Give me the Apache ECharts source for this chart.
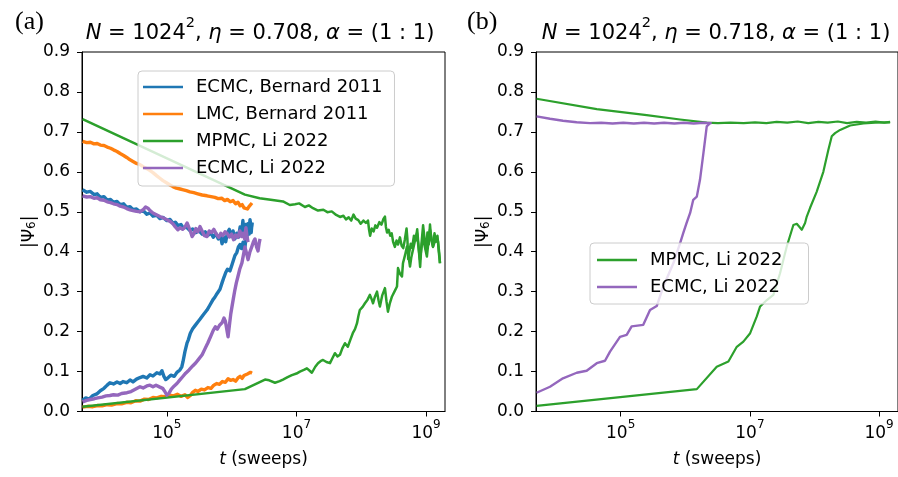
<!DOCTYPE html>
<html>
<head>
<meta charset="utf-8">
<script src="https://cdn.jsdelivr.net/npm/echarts@6/dist/echarts.min.js"></script>
<style>
  html, body { margin: 0; padding: 0; background: #fff; }
  #chart { width: 898px; height: 477px; }
</style>
</head>
<body>
<div id="chart"></div>
<script>
// |Psi_6| versus Monte Carlo time t (sweeps); each method has an ordered and a disordered start.
// Points are [t, |Psi_6|].

// ---- panel (a): eta = 0.708 ----
const ecmcBernardHigh = [
  [5.0e3,0.555],[5.8e3,0.549],[6.6e3,0.551],[7.5e3,0.543],[8.4e3,0.545],[9.4e3,0.536],[1.07e4,0.538],[1.2e4,0.529],
  [1.35e4,0.531],[1.5e4,0.524],[1.7e4,0.526],[1.9e4,0.518],[2.15e4,0.520],[2.4e4,0.511],[2.7e4,0.513],[3.0e4,0.505],
  [3.4e4,0.507],[3.85e4,0.500],[4.3e4,0.503],[4.9e4,0.494],[5.5e4,0.497],[6.1e4,0.489],[7.0e4,0.491],[7.8e4,0.483],
  [8.7e4,0.486],[1.0e5,0.478],[1.12e5,0.481],[1.24e5,0.471],[1.35e5,0.474],[1.48e5,0.466],[1.65e5,0.468],[1.8e5,0.459],
  [2.0e5,0.462],[2.27e5,0.453],[2.5e5,0.457],[2.8e5,0.448],[3.1e5,0.453],[3.5e5,0.444],[3.9e5,0.450],[4.3e5,0.441],
  [4.8e5,0.447],[5.2e5,0.436],[5.7e5,0.446],[6.2e5,0.432],[6.7e5,0.441],[7.1e5,0.420],[7.6e5,0.436],[8.1e5,0.425],
  [8.6e5,0.448],[9.2e5,0.456],[9.8e5,0.438],[1.05e6,0.452],[1.12e6,0.432],[1.2e6,0.446],[1.27e6,0.436],[1.35e6,0.462],
  [1.42e6,0.445],[1.49e6,0.478],[1.56e6,0.440],[1.63e6,0.468],[1.7e6,0.428],[1.77e6,0.470],[1.84e6,0.452],[1.92e6,0.480],
  [2.0e6,0.458],[2.06e6,0.474]
];
const ecmcBernardLow = [
  [5.0e3,0.028],[5.6e3,0.034],[6.3e3,0.031],[7.2e3,0.040],[8.3e3,0.044],[9.4e3,0.052],[1.07e4,0.058],[1.2e4,0.066],
  [1.32e4,0.072],[1.5e4,0.069],[1.7e4,0.074],[1.9e4,0.070],[2.1e4,0.075],[2.4e4,0.072],[2.7e4,0.079],[3.0e4,0.074],
  [3.4e4,0.081],[3.85e4,0.085],[4.3e4,0.088],[4.9e4,0.084],[5.5e4,0.092],[6.1e4,0.089],[7.0e4,0.097],[7.8e4,0.094],
  [8.4e4,0.102],[9.0e4,0.088],[9.6e4,0.080],[1.05e5,0.085],[1.15e5,0.091],[1.3e5,0.088],[1.43e5,0.098],[1.59e5,0.104],
  [1.7e5,0.112],[1.77e5,0.124],[1.9e5,0.150],[2.05e5,0.172],[2.15e5,0.180],[2.3e5,0.196],[2.5e5,0.207],[2.72e5,0.215],
  [3.0e5,0.224],[3.24e5,0.231],[3.6e5,0.241],[4.16e5,0.254],[4.6e5,0.266],[5.15e5,0.280],[5.5e5,0.286],[5.93e5,0.295],
  [6.6e5,0.306],[7.1e5,0.322],[7.6e5,0.336],[8.1e5,0.348],[8.6e5,0.356],[9.4e5,0.352],[1.0e6,0.365],[1.07e6,0.380],
  [1.12e6,0.390],[1.2e6,0.398],[1.27e6,0.412],[1.34e6,0.418],[1.42e6,0.408],[1.5e6,0.424],[1.58e6,0.402],[1.65e6,0.430],
  [1.72e6,0.446],[1.79e6,0.466],[1.86e6,0.444],[1.94e6,0.458],[2.0e6,0.448],[2.06e6,0.472]
];
const lmcBernardHigh = [
  [5.0e3,0.676],[5.8e3,0.673],[6.6e3,0.674],[7.5e3,0.670],[8.4e3,0.671],[9.4e3,0.667],[1.07e4,0.666],[1.2e4,0.662],
  [1.35e4,0.659],[1.5e4,0.655],[1.7e4,0.651],[1.9e4,0.646],[2.15e4,0.641],[2.4e4,0.636],[2.7e4,0.630],[3.0e4,0.626],
  [3.4e4,0.621],[3.85e4,0.618],[4.3e4,0.613],[4.9e4,0.608],[5.5e4,0.603],[6.1e4,0.598],[7.0e4,0.590],[7.8e4,0.584],
  [8.7e4,0.578],[1.0e5,0.572],[1.12e5,0.567],[1.24e5,0.563],[1.4e5,0.559],[1.6e5,0.557],[1.8e5,0.555],[2.0e5,0.553],
  [2.27e5,0.550],[2.6e5,0.548],[3.0e5,0.545],[3.5e5,0.542],[4.16e5,0.540],[4.8e5,0.538],[5.5e5,0.536],[6.2e5,0.533],
  [7.0e5,0.534],[7.8e5,0.528],[8.6e5,0.531],[9.5e5,0.525],[1.05e6,0.528],[1.15e6,0.520],[1.25e6,0.524],[1.35e6,0.515],
  [1.45e6,0.518],[1.55e6,0.510],[1.65e6,0.514],[1.75e6,0.507],[1.85e6,0.513],[1.95e6,0.518],[2.06e6,0.522]
];
const lmcBernardLow = [
  [5.0e3,0.011],[6.0e3,0.013],[7.2e3,0.012],[8.6e3,0.015],[1.0e4,0.014],[1.2e4,0.017],[1.4e4,0.016],[1.7e4,0.020],
  [2.0e4,0.019],[2.4e4,0.023],[2.8e4,0.022],[3.3e4,0.027],[3.85e4,0.026],[4.5e4,0.031],[5.2e4,0.030],[6.1e4,0.035],
  [7.0e4,0.034],[8.2e4,0.038],[9.5e4,0.037],[1.1e5,0.041],[1.27e5,0.039],[1.45e5,0.043],[1.65e5,0.038],[1.9e5,0.042],
  [2.1e5,0.035],[2.3e5,0.040],[2.5e5,0.048],[2.75e5,0.053],[3.0e5,0.050],[3.4e5,0.056],[3.8e5,0.054],[4.3e5,0.060],
  [4.8e5,0.058],[5.3e5,0.066],[5.9e5,0.070],[6.5e5,0.068],[7.2e5,0.075],[8.0e5,0.073],[8.8e5,0.082],[9.6e5,0.078],
  [1.05e6,0.080],[1.15e6,0.076],[1.25e6,0.084],[1.35e6,0.088],[1.45e6,0.083],[1.55e6,0.090],[1.65e6,0.087],[1.75e6,0.094],
  [1.85e6,0.090],[1.95e6,0.098],[2.06e6,0.096]
];
const mpmcLiHighA = [
  [5.0e3,0.732],[1.6e6,0.543],[2.7e6,0.534],[4.0e6,0.530],[6.2e6,0.526],[7.9e6,0.517],[9.5e6,0.519],[1.1e7,0.521],
  [1.35e7,0.512],[1.55e7,0.516],[1.8e7,0.509],[2.15e7,0.503],[2.6e7,0.505],[3.0e7,0.499],[3.5e7,0.501],[4.1e7,0.492],
  [4.7e7,0.487],[5.3e7,0.490],[5.8e7,0.481],[6.4e7,0.486],[7.0e7,0.478],[7.6e7,0.493],[8.2e7,0.483],[9.0e7,0.479],
  [9.8e7,0.470],[1.08e8,0.478],[1.18e8,0.472],[1.27e8,0.478],[1.32e8,0.455],[1.37e8,0.440],[1.45e8,0.458],[1.55e8,0.451],
  [1.65e8,0.466],[1.75e8,0.460],[1.9e8,0.474],[2.05e8,0.468],[2.2e8,0.482],[2.32e8,0.488],[2.4e8,0.462],[2.5e8,0.448],
  [2.65e8,0.455],[2.8e8,0.440],[2.95e8,0.446],[3.1e8,0.425],[3.3e8,0.412],[3.5e8,0.428],[3.7e8,0.418],[3.95e8,0.436],
  [4.2e8,0.415],[4.45e8,0.409],[4.7e8,0.430],[5.0e8,0.458],[5.15e8,0.432],[5.3e8,0.382],[5.5e8,0.398],[5.8e8,0.420],
  [6.1e8,0.410],[6.5e8,0.440],[6.9e8,0.428],[7.3e8,0.456],[7.7e8,0.408],[8.1e8,0.362],[8.5e8,0.420],[9.0e8,0.466],
  [9.5e8,0.430],[1.0e9,0.405],[1.05e9,0.448],[1.1e9,0.418],[1.15e9,0.468],[1.2e9,0.432],[1.28e9,0.412],[1.35e9,0.446],
  [1.42e9,0.425],[1.5e9,0.440],[1.57e9,0.400],[1.64e9,0.372]
];
const mpmcLiLowA = [
  [5.0e3,0.012],[1.6e6,0.056],[3.27e6,0.080],[3.8e6,0.078],[4.66e6,0.072],[5.5e6,0.076],[6.19e6,0.080],[7.3e6,0.086],
  [8.5e6,0.091],[1.0e7,0.095],[1.13e7,0.100],[1.3e7,0.104],[1.45e7,0.108],[1.6e7,0.102],[1.73e7,0.097],[1.95e7,0.112],
  [2.15e7,0.121],[2.35e7,0.126],[2.57e7,0.129],[2.9e7,0.124],[3.29e7,0.121],[3.6e7,0.134],[3.93e7,0.146],[4.3e7,0.138],
  [4.69e7,0.142],[5.1e7,0.158],[5.6e7,0.171],[6.2e7,0.162],[6.8e7,0.180],[7.4e7,0.196],[8.0e7,0.206],[8.6e7,0.221],
  [9.0e7,0.238],[9.5e7,0.254],[1.05e8,0.262],[1.14e8,0.271],[1.25e8,0.280],[1.36e8,0.292],[1.44e8,0.282],[1.52e8,0.271],
  [1.63e8,0.288],[1.75e8,0.300],[1.85e8,0.278],[1.94e8,0.263],[2.1e8,0.290],[2.32e8,0.309],[2.45e8,0.276],[2.58e8,0.250],
  [2.75e8,0.270],[2.98e8,0.288],[3.25e8,0.300],[3.56e8,0.313],[3.69e8,0.359],[3.95e8,0.345],[4.25e8,0.338],[4.4e8,0.371],
  [4.75e8,0.392],[5.07e8,0.413],[5.35e8,0.390],[5.65e8,0.363],[5.9e8,0.385],[6.28e8,0.405],[6.75e8,0.428],[7.24e8,0.447],
  [7.6e8,0.415],[8.05e8,0.380],[8.5e8,0.410],[8.96e8,0.438],[9.5e8,0.415],[1.03e9,0.388],[1.08e9,0.420],[1.15e9,0.455],
  [1.22e9,0.432],[1.28e9,0.413],[1.4e9,0.430],[1.53e9,0.426],[1.6e9,0.395],[1.64e9,0.371]
];
const ecmcLiHighA = [
  [5.0e3,0.540],[5.8e3,0.537],[6.6e3,0.538],[7.5e3,0.534],[8.4e3,0.535],[9.4e3,0.530],[1.07e4,0.529],[1.2e4,0.525],
  [1.35e4,0.523],[1.5e4,0.520],[1.7e4,0.518],[1.9e4,0.514],[2.15e4,0.512],[2.4e4,0.508],[2.7e4,0.505],[3.0e4,0.503],
  [3.4e4,0.501],[3.85e4,0.500],[4.3e4,0.505],[4.7e4,0.512],[5.1e4,0.509],[5.5e4,0.503],[6.1e4,0.497],[7.0e4,0.492],
  [7.8e4,0.488],[8.7e4,0.485],[1.0e5,0.480],[1.12e5,0.476],[1.24e5,0.470],[1.35e5,0.462],[1.48e5,0.455],[1.6e5,0.460],
  [1.75e5,0.456],[1.9e5,0.462],[2.05e5,0.472],[2.15e5,0.476],[2.3e5,0.452],[2.45e5,0.438],[2.6e5,0.444],[2.8e5,0.458],
  [3.0e5,0.450],[3.24e5,0.463],[3.5e5,0.452],[3.8e5,0.440],[4.16e5,0.438],[4.5e5,0.452],[4.9e5,0.448],[5.3e5,0.456],
  [5.8e5,0.444],[6.3e5,0.436],[6.8e5,0.446],[7.3e5,0.440],[7.9e5,0.450],[8.5e5,0.446],[9.2e5,0.437],[1.0e6,0.444],
  [1.07e6,0.430],[1.15e6,0.442],[1.25e6,0.436],[1.34e6,0.452],[1.42e6,0.438],[1.5e6,0.446],[1.58e6,0.432],[1.66e6,0.460],
  [1.72e6,0.440],[1.79e6,0.424]
];
const ecmcLiLowA = [
  [5.0e3,0.024],[5.8e3,0.028],[6.6e3,0.030],[7.6e3,0.032],[8.6e3,0.034],[1.0e4,0.036],[1.15e4,0.039],[1.32e4,0.040],
  [1.5e4,0.042],[1.75e4,0.041],[2.0e4,0.045],[2.42e4,0.047],[2.8e4,0.050],[3.2e4,0.055],[3.85e4,0.062],[4.3e4,0.059],
  [4.9e4,0.064],[5.48e4,0.066],[6.1e4,0.062],[6.8e4,0.066],[7.8e4,0.061],[8.6e4,0.058],[9.3e4,0.050],[1.0e5,0.041],
  [1.08e5,0.046],[1.17e5,0.056],[1.3e5,0.064],[1.43e5,0.070],[1.59e5,0.079],[1.75e5,0.087],[1.95e5,0.096],[2.2e5,0.104],
  [2.5e5,0.114],[2.8e5,0.122],[3.1e5,0.131],[3.5e5,0.142],[3.9e5,0.158],[4.3e5,0.172],[4.8e5,0.190],[5.2e5,0.203],
  [5.6e5,0.212],[6.0e5,0.206],[6.5e5,0.216],[7.1e5,0.222],[7.6e5,0.234],[8.0e5,0.226],[8.4e5,0.206],[8.8e5,0.187],
  [9.2e5,0.214],[9.7e5,0.245],[1.01e6,0.262],[1.06e6,0.282],[1.12e6,0.304],[1.18e6,0.322],[1.25e6,0.338],[1.33e6,0.356],
  [1.44e6,0.372],[1.52e6,0.392],[1.6e6,0.412],[1.7e6,0.396],[1.79e6,0.380],[1.9e6,0.398],[2.06e6,0.414],[2.18e6,0.426],
  [2.29e6,0.432],[2.42e6,0.412],[2.55e6,0.402],[2.65e6,0.420],[2.74e6,0.432]
];

// ---- panel (b): eta = 0.718 ----
const mpmcLiHighB = [
  [5.0e3,0.783],[4.27e4,0.757],[2.53e5,0.742],[8.3e5,0.731],[2.15e6,0.723],[3.2e6,0.722],[5.0e6,0.723],[8.0e6,0.722],
  [1.2e7,0.724],[1.8e7,0.722],[2.6e7,0.725],[3.8e7,0.723],[5.5e7,0.726],[8.0e7,0.722],[1.15e8,0.725],[1.6e8,0.723],
  [2.3e8,0.726],[3.2e8,0.722],[4.5e8,0.725],[6.3e8,0.723],[8.8e8,0.726],[1.2e9,0.723],[1.48e9,0.725]
];
const mpmcLiLowB = [
  [5.0e3,0.014],[1.51e6,0.056],[3.07e6,0.112],[4.65e6,0.125],[6.27e6,0.162],[7.93e6,0.175],[1.01e7,0.196],[1.28e7,0.238],
  [1.44e7,0.263],[1.83e7,0.279],[2.31e7,0.292],[2.93e7,0.346],[3.72e7,0.413],[4.71e7,0.467],[5.32e7,0.470],[6.36e7,0.455],
  [7.15e7,0.472],[7.59e7,0.488],[8.55e7,0.510],[1.08e8,0.550],[1.37e8,0.600],[1.64e8,0.655],[1.85e8,0.689],[2.08e8,0.697],
  [2.49e8,0.705],[3.56e8,0.716],[5.71e8,0.721],[8.67e8,0.723],[1.48e9,0.724]
];
const ecmcLiHighB = [
  [5.0e3,0.739],[8.07e3,0.733],[1.28e4,0.728],[2.09e4,0.724],[3.36e4,0.722],[5.0e4,0.723],[7.5e4,0.721],[1.1e5,0.723],
  [1.6e5,0.721],[2.3e5,0.723],[3.3e5,0.721],[4.7e5,0.723],[6.8e5,0.721],[9.5e5,0.723],[1.35e6,0.721],[1.9e6,0.723],
  [2.57e6,0.722]
];
const ecmcLiLowB = [
  [5.0e3,0.047],[8.07e3,0.062],[1.28e4,0.083],[2.09e4,0.097],[2.98e4,0.102],[4.27e4,0.121],[5.73e4,0.127],[6.85e4,0.150],
  [9.77e4,0.187],[1.24e5,0.192],[1.48e5,0.213],[2.24e5,0.217],[2.85e5,0.254],[3.62e5,0.264],[4.58e5,0.313],[6.54e5,0.371],
  [8.3e5,0.421],[9.33e5,0.447],[1.05e6,0.472],[1.19e6,0.497],[1.33e6,0.530],[1.51e6,0.538],[1.69e6,0.580],[1.91e6,0.647],
  [2.15e6,0.714],[2.42e6,0.722]
];

const seriesNames = ['ECMC, Bernard 2011', 'LMC, Bernard 2011', 'MPMC, Li 2022', 'ECMC, Li 2022'];
const panelTitles = ['(a)', '(b)'];
const panelEta = ['0.708', '0.718'];
const xTickValues = [1e5, 1e7, 1e9];
const tRange = [4.9e3, 1.96e9];

const C = { blue: '#1f77b4', orange: '#ff7f0e', green: '#2ca02c', purple: '#9467bd' };
const FONT = 'DejaVu Sans';
const FS = 17;

const log10 = v => Math.log10(v);
const toLog = arr => arr.map(p => [log10(p[0]), p[1]]);

function line(name, data, color, panel, width) {
  return {
    type: 'line', name, data: toLog(data),
    xAxisIndex: panel, yAxisIndex: panel,
    symbol: 'none', showSymbol: false, smooth: false,
    lineStyle: { color, width, join: 'round' },
    itemStyle: { color },
    emphasis: { disabled: true }, silent: true
  };
}

const supRich = {
  b: { fontFamily: FONT, fontSize: FS, color: '#000', lineHeight: 24, verticalAlign: 'bottom' },
  s: { fontFamily: FONT, fontSize: 12, color: '#000', lineHeight: 17, verticalAlign: 'top' }
};

function xAxis(idx) {
  return {
    type: 'value', gridIndex: idx,
    min: log10(tRange[0]), max: log10(tRange[1]),
    axisLine: { show: true, lineStyle: { color: '#000', width: 1 } },
    axisTick: { show: true, length: 5, customValues: xTickValues.map(log10), lineStyle: { color: '#000', width: 1 } },
    axisLabel: {
      customValues: xTickValues.map(log10), margin: 7,
      formatter: v => '{b|10}{s|' + Math.round(v) + '}',
      rich: supRich
    },
    splitLine: { show: false },
    name: '{i|t}{r| (sweeps)}', nameLocation: 'middle', nameGap: 40,
    nameTextStyle: {
      rich: {
        i: { fontFamily: FONT, fontStyle: 'italic', fontSize: FS, color: '#000' },
        r: { fontFamily: FONT, fontSize: FS, color: '#000' }
      }
    }
  };
}

function yAxis(idx) {
  return {
    type: 'value', gridIndex: idx, min: 0, max: 0.9, interval: 0.1,
    axisLine: { show: true, lineStyle: { color: '#000', width: 1 } },
    axisTick: { show: true, length: 5, lineStyle: { color: '#000', width: 1 } },
    axisLabel: { margin: 12, fontFamily: FONT, fontSize: FS, color: '#000', formatter: v => v.toFixed(1) },
    splitLine: { show: false },
    name: '|Ψ{sub|6}|', nameLocation: 'middle', nameGap: 44, nameRotate: 90,
    nameTextStyle: {
      fontFamily: FONT, fontSize: FS, color: '#000',
      rich: { sub: { fontFamily: FONT, fontSize: 12, color: '#000', lineHeight: 14, verticalAlign: 'bottom' } }
    }
  };
}

function title(i, x) {
  const base = { fontFamily: FONT, fontSize: 21, fontWeight: 'normal', color: '#000', lineHeight: 28, verticalAlign: 'bottom' };
  return {
    text: '{i|N}{r| = 1024}{s|2}{r|, }{i|η}{r| = ' + panelEta[i] + ', }{i|α}{r| = (1 : 1)}',
    left: x, top: 11, textAlign: 'center',
    textStyle: {
      fontWeight: 'normal',
      rich: {
        i: Object.assign({}, base, { fontStyle: 'italic' }),
        r: base,
        s: { fontFamily: FONT, fontSize: 14.5, fontWeight: 'normal', color: '#000', lineHeight: 17, verticalAlign: 'top' }
      }
    }
  };
}

function panelTag(i, x) {
  return {
    text: panelTitles[i], left: x, top: 4,
    textStyle: { fontFamily: 'Liberation Serif', fontSize: 26, fontWeight: 'normal', color: '#000' }
  };
}

const legendBase = {
  orient: 'vertical', icon: 'rect', itemWidth: 40, itemHeight: 2.4, itemGap: 9,
  backgroundColor: 'rgba(255,255,255,0.8)', borderColor: '#cccccc', borderWidth: 1, borderRadius: 4,
  selectedMode: false,
  textStyle: { fontFamily: FONT, fontSize: 18, lineHeight: 14, color: '#000', padding: [0, 0, 0, 8] }
};

const option = {
  animation: false,
  backgroundColor: '#fff',
  title: [title(0, 255), title(1, 711), panelTag(0, 10), panelTag(1, 462)],
  grid: [
    { left: 82, top: 52, width: 363, height: 359.5, show: true, borderColor: '#000', borderWidth: 1, backgroundColor: 'transparent' },
    { left: 536, top: 52, width: 362, height: 359.5, show: true, borderColor: '#000', borderWidth: 1, backgroundColor: 'transparent' }
  ],
  xAxis: [xAxis(0), xAxis(1)],
  yAxis: [yAxis(0), yAxis(1)],
  legend: [
    Object.assign({}, legendBase, { left: 138, top: 71, padding: [7, 12, 9, 5], data: seriesNames }),
    Object.assign({}, legendBase, { left: 590, top: 243, padding: [8, 26, 8, 7], data: [seriesNames[2], seriesNames[3]] })
  ],
  series: [
    line(seriesNames[0], ecmcBernardHigh, C.blue, 0, 3.4),
    line(seriesNames[0], ecmcBernardLow, C.blue, 0, 3.4),
    line(seriesNames[1], lmcBernardHigh, C.orange, 0, 3.4),
    line(seriesNames[1], lmcBernardLow, C.orange, 0, 3.4),
    line(seriesNames[2], mpmcLiHighA, C.green, 0, 2.5),
    line(seriesNames[2], mpmcLiLowA, C.green, 0, 2.5),
    line(seriesNames[3], ecmcLiHighA, C.purple, 0, 3.4),
    line(seriesNames[3], ecmcLiLowA, C.purple, 0, 3.4),
    line(seriesNames[2], mpmcLiHighB, C.green, 1, 2.2),
    line(seriesNames[2], mpmcLiLowB, C.green, 1, 2.2),
    line(seriesNames[3], ecmcLiHighB, C.purple, 1, 2.4),
    line(seriesNames[3], ecmcLiLowB, C.purple, 1, 2.4)
  ]
};

const chart = echarts.init(document.getElementById('chart'), null, { renderer: 'canvas' });
chart.setOption(option);
</script>
</body>
</html>
